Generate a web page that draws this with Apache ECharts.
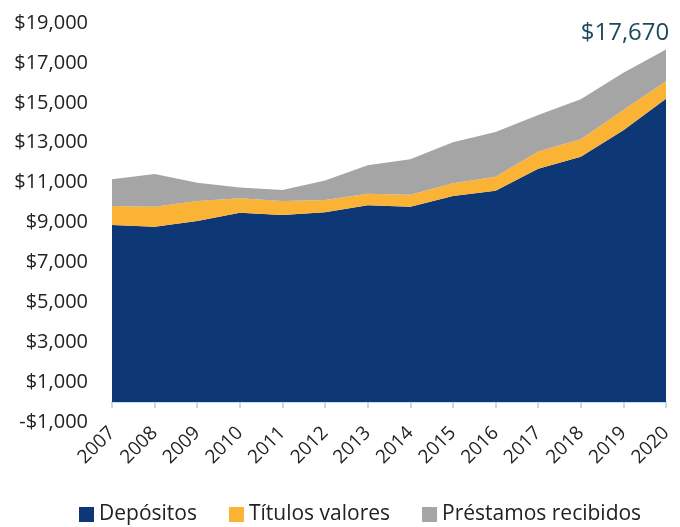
<!DOCTYPE html>
<html><head><meta charset="utf-8">
<script src="https://cdn.jsdelivr.net/npm/echarts@6/dist/echarts.min.js"></script>
<style>html,body{margin:0;padding:0;background:#fff}#c{width:680px;height:527px}</style>
</head><body><div id="c"></div>
<script>
const years = ['2007','2008','2009','2010','2011','2012','2013','2014','2015','2016','2017','2018','2019','2020'];
const depositos = [8870, 8790, 9070, 9490, 9370, 9520, 9870, 9790, 10330, 10590, 11690, 12300, 13630, 15200];
const titulos = [955, 1000, 1005, 720, 705, 605, 573, 603, 632, 703, 866, 868, 1007, 880];
const prestamos = [1338, 1639, 917, 550, 552, 985, 1421, 1772, 2055, 2241, 1830, 2005, 1874, 1590];
const yTicks = [-1000, 1000, 3000, 5000, 7000, 9000, 11000, 13000, 15000, 17000, 19000];

const font = '"Open Sans", "DejaVu Sans", sans-serif';
const fmt = v => (v < 0 ? '-$' : '$') + Math.abs(v).toLocaleString('en-US');
const last = years.length - 1;
const total = depositos[last] + titulos[last] + prestamos[last];

function mk(name, data, color, withLabel) {
  return {
    name, type: 'line', stack: 'total',
    data: data.map((v, i) => {
      if (withLabel && i === last) {
        return { value: v, label: { show: true, position: 'top', distance: 4, offset: [-41, 0],
          formatter: () => fmt(total), color: '#1E4A5C', fontSize: 24, fontFamily: font } };
      }
      return v;
    }),
    symbol: 'circle', symbolSize: 0, showSymbol: withLabel,
    label: { show: false },
    lineStyle: { width: 0 }, areaStyle: { color, opacity: 1 }, itemStyle: { color },
    emphasis: { disabled: true }
  };
}

const chart = echarts.init(document.getElementById('c'));
chart.setOption({
  animation: false,
  grid: { left: 112, right: 14, top: 23, bottom: 105, containLabel: false },
  legend: {
    bottom: -3, left: 74, itemWidth: 15, itemHeight: 15, itemGap: 32, icon: 'rect',
    textStyle: { fontSize: 21, color: '#222', fontFamily: font },
    data: ['Depósitos', 'Títulos valores', 'Préstamos recibidos']
  },
  xAxis: {
    type: 'category', data: years, boundaryGap: false,
    axisLine: { show: true, onZero: true, lineStyle: { color: '#BFDDF2', width: 2 } },
    axisTick: { show: true, length: 6, lineStyle: { color: '#BFDDF2', width: 2 } },
    axisLabel: { rotate: 45, fontSize: 19, color: '#222', fontFamily: font, margin: 8, interval: 0 }
  },
  yAxis: {
    type: 'value', min: yTicks[0], max: yTicks[yTicks.length - 1], interval: 2000,
    axisLine: { show: false }, axisTick: { show: false }, splitLine: { show: false },
    axisLabel: { fontSize: 20, color: '#222', fontFamily: font, margin: 24, formatter: fmt }
  },
  series: [
    mk('Depósitos', depositos, '#0E3875', false),
    mk('Títulos valores', titulos, '#FBB336', false),
    mk('Préstamos recibidos', prestamos, '#A5A5A5', true)
  ]
});
</script></body></html>
